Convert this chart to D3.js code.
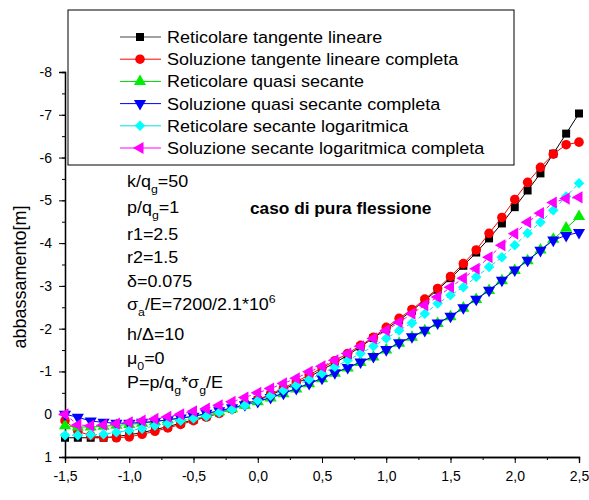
<!DOCTYPE html>
<html><head><meta charset="utf-8">
<script src="https://cdn.jsdelivr.net/npm/d3@7"></script>
<style>
body{margin:0;background:#fff;}
svg{font-family:Arial,"Liberation Sans",sans-serif;}
</style></head>
<body><svg id="c" width="589" height="500"></svg>
<script>
// ---- data ----
const xValues = [-1.5,-1.4,-1.3,-1.2,-1.1,-1.0,-0.9,-0.8,-0.7,-0.6,-0.5,-0.4,-0.3,-0.2,-0.1,0.0,0.1,0.2,0.3,0.4,0.5,0.6,0.7,0.8,0.9,1.0,1.1,1.2,1.3,1.4,1.5,1.6,1.7,1.8,1.9,2.0,2.1,2.2,2.3,2.4,2.5];
const seriesNames = ["Reticolare tangente lineare","Soluzione tangente lineare completa","Reticolare quasi secante","Soluzione quasi secante completa","Reticolare secante logaritmica","Soluzione secante logaritmica completa"];
const reticolareTangente = [0.55,0.55,0.55,0.55,0.52,0.48,0.43,0.36,0.29,0.21,0.13,0.05,-0.04,-0.13,-0.23,-0.33,-0.45,-0.58,-0.72,-0.87,-1.04,-1.20,-1.38,-1.58,-1.78,-1.99,-2.20,-2.42,-2.66,-2.91,-3.18,-3.47,-3.78,-4.11,-4.46,-4.84,-5.23,-5.63,-6.09,-6.56,-7.03];
const soluzioneTangente = [0.15,0.40,0.50,0.54,0.55,0.53,0.47,0.40,0.32,0.24,0.15,0.07,-0.02,-0.12,-0.23,-0.34,-0.47,-0.61,-0.76,-0.92,-1.08,-1.25,-1.42,-1.61,-1.80,-2.03,-2.24,-2.45,-2.69,-2.94,-3.22,-3.52,-3.84,-4.23,-4.60,-5.02,-5.42,-5.77,-6.08,-6.30,-6.36];
const reticolareQuasi = [0.27,0.30,0.30,0.28,0.26,0.24,0.21,0.17,0.13,0.09,0.05,0.00,-0.06,-0.13,-0.21,-0.29,-0.38,-0.48,-0.59,-0.71,-0.83,-0.96,-1.08,-1.21,-1.34,-1.50,-1.66,-1.80,-1.95,-2.12,-2.28,-2.48,-2.68,-2.89,-3.12,-3.36,-3.59,-3.84,-4.09,-4.35,-4.62];
const soluzioneQuasi = [0.00,0.07,0.16,0.19,0.21,0.21,0.19,0.17,0.13,0.09,0.05,-0.02,-0.08,-0.15,-0.22,-0.30,-0.39,-0.49,-0.60,-0.72,-0.84,-0.97,-1.09,-1.22,-1.35,-1.51,-1.67,-1.81,-1.96,-2.13,-2.29,-2.49,-2.69,-2.90,-3.13,-3.37,-3.60,-3.83,-4.07,-4.18,-4.25];
const reticolareSecante = [0.49,0.49,0.48,0.47,0.42,0.38,0.34,0.27,0.22,0.15,0.10,0.05,-0.04,-0.11,-0.21,-0.32,-0.43,-0.56,-0.68,-0.81,-0.95,-1.11,-1.26,-1.42,-1.59,-1.77,-1.96,-2.13,-2.35,-2.59,-2.78,-2.97,-3.21,-3.44,-3.67,-3.95,-4.23,-4.49,-4.77,-5.09,-5.40];
const soluzioneSecante = [0.00,0.25,0.27,0.25,0.22,0.19,0.15,0.11,0.06,0.00,-0.07,-0.13,-0.21,-0.29,-0.39,-0.50,-0.60,-0.72,-0.84,-0.99,-1.12,-1.26,-1.42,-1.59,-1.77,-1.96,-2.15,-2.35,-2.55,-2.74,-2.97,-3.18,-3.40,-3.67,-3.95,-4.22,-4.49,-4.70,-4.95,-5.04,-5.07];
const xTickLabels = ["-1,5","-1,0","-0,5","0,0","0,5","1,0","1,5","2,0","2,5"];
const yTickLabels = ["-8","-7","-6","-5","-4","-3","-2","-1","0","1"];

// ---- drawing ----
const svg = d3.select("#c");
const x = d3.scaleLinear().domain([-1.5,2.5]).range([65,579]);
const y = d3.scaleLinear().domain([1,-8]).range([457,72]);

const colors = ["#000000","#ff0000","#00ee00","#0000ff","#00ffff","#ff00ff"];
const lineColors = ["#000000","#ff0000","#00cc00","#0000ff","#00e0e0","#ff00ff"];
const dashes = [null,null,null,null,"4,3","4,3"];
const symbols = [
  {t:d3.symbolSquare,s:64,r:0},
  {t:d3.symbolCircle,s:72,r:0},
  {t:d3.symbolTriangle,s:64,r:0},
  {t:d3.symbolTriangle,s:64,r:180},
  {t:d3.symbolSquare,s:56,r:45},
  {t:d3.symbolTriangle,s:64,r:-90}
];
const allSeries = [reticolareTangente,soluzioneTangente,reticolareQuasi,soluzioneQuasi,reticolareSecante,soluzioneSecante];

// axes
const xMajor = d3.range(9).map(i=>-1.5+0.5*i);
const xMinor = d3.range(17).map(i=>-1.5+0.25*i);
const yMajor = d3.range(10).map(i=>-8+i);
const yMinor = d3.range(19).map(i=>-8+0.5*i);

const gx = svg.append("g").attr("transform","translate(0,457)");
gx.call(d3.axisBottom(x).tickValues(xMinor).tickSize(3).tickFormat(""));
gx.call(g=>g.append("g").call(d3.axisBottom(x).tickValues(xMajor).tickSize(6).tickPadding(8).tickFormat((d,i)=>xTickLabels[i])));
gx.selectAll("text").attr("font-size",14).attr("fill","#000").attr("font-family","Arial, 'Liberation Sans', sans-serif");
gx.selectAll("line").attr("stroke","#000");
gx.selectAll(".domain").attr("stroke","#000").attr("stroke-width",1.3);

const gy = svg.append("g").attr("transform","translate(65,0)");
gy.call(d3.axisLeft(y).tickValues(yMinor).tickSize(3).tickFormat(""));
gy.call(g=>g.append("g").call(d3.axisLeft(y).tickValues(yMajor).tickSize(6).tickPadding(7).tickFormat((d,i)=>yTickLabels[i])));
gy.selectAll("text").attr("font-size",14).attr("fill","#000").attr("font-family","Arial, 'Liberation Sans', sans-serif");
gy.selectAll("line").attr("stroke","#000");
gy.selectAll(".domain").attr("stroke","#000").attr("stroke-width",1.3);

// axis title
svg.append("text").attr("transform","translate(26,277) rotate(-90)")
  .attr("text-anchor","middle").attr("font-size",18).text("abbassamento[m]");

// series
const line = d3.line().x((d,i)=>x(xValues[i])).y(d=>y(d));
allSeries.forEach((vals,k)=>{
  const g = svg.append("g");
  g.append("path").datum(vals).attr("d",line).attr("fill","none")
    .attr("stroke",lineColors[k]).attr("stroke-width",1)
    .attr("stroke-dasharray",dashes[k]);
  g.selectAll("path.m").data(vals).enter().append("path").attr("class","m")
    .attr("d",d3.symbol().type(symbols[k].t).size(symbols[k].s))
    .attr("transform",(d,i)=>`translate(${x(xValues[i])},${y(d)}) rotate(${symbols[k].r})`)
    .attr("fill",colors[k]);
});

// legend
const leg = svg.append("g");
leg.append("rect").attr("x",68).attr("y",10).attr("width",446).attr("height",155)
  .attr("fill","#fff").attr("stroke","#000").attr("stroke-width",1);
seriesNames.forEach((name,k)=>{
  const cy = 37 + k*22.2;
  leg.append("line").attr("x1",120).attr("x2",161).attr("y1",cy).attr("y2",cy)
    .attr("stroke",k===0?"#444":lineColors[k]).attr("stroke-width",1);
  leg.append("path").attr("d",d3.symbol().type(symbols[k].t).size(symbols[k].s))
    .attr("transform",`translate(140,${cy}) rotate(${symbols[k].r})`).attr("fill",colors[k]);
  leg.append("text").attr("transform",`translate(167,${cy+6}) scale(1.06,1)`)
    .attr("font-size",17).text(name);
});

// annotations
const ann = svg.append("g").attr("font-size",16).attr("transform","translate(127,0) scale(1.12,1)");
function addLine(yb, parts){
  const t = ann.append("text").attr("x",0).attr("y",yb);
  parts.forEach(p=>{
    const ts = t.append("tspan").text(p.s);
    if(p.sub){ts.attr("font-size",11).attr("dy",6);}
    else if(p.sup){ts.attr("font-size",11).attr("dy",-7);}
    else if(p.back){ts.attr("dy",p.back);}
  });
}
addLine(187,[{s:"k/q"},{s:"g",sub:1},{s:"=50",back:-6}]);
addLine(213,[{s:"p/q"},{s:"g",sub:1},{s:"=1",back:-6}]);
addLine(240,[{s:"r1=2.5"}]);
addLine(263,[{s:"r2=1.5"}]);
addLine(287,[{s:"δ=0.075"}]);
addLine(310,[{s:"σ"},{s:"a",sub:1},{s:"/E=7200/2.1*10",back:-6},{s:"6",sup:1}]);
addLine(340,[{s:"h/Δ=10"}]);
addLine(364,[{s:"μ"},{s:"0",sub:1},{s:"=0",back:-6}]);
addLine(388,[{s:"P=p/q"},{s:"g",sub:1},{s:"*σ",back:-6},{s:"g",sub:1},{s:"/E",back:-6}]);

svg.append("text").attr("transform","translate(250,214) scale(1.08,1)")
  .attr("font-size",16).attr("font-weight","bold").text("caso di pura flessione");
</script></body></html>
